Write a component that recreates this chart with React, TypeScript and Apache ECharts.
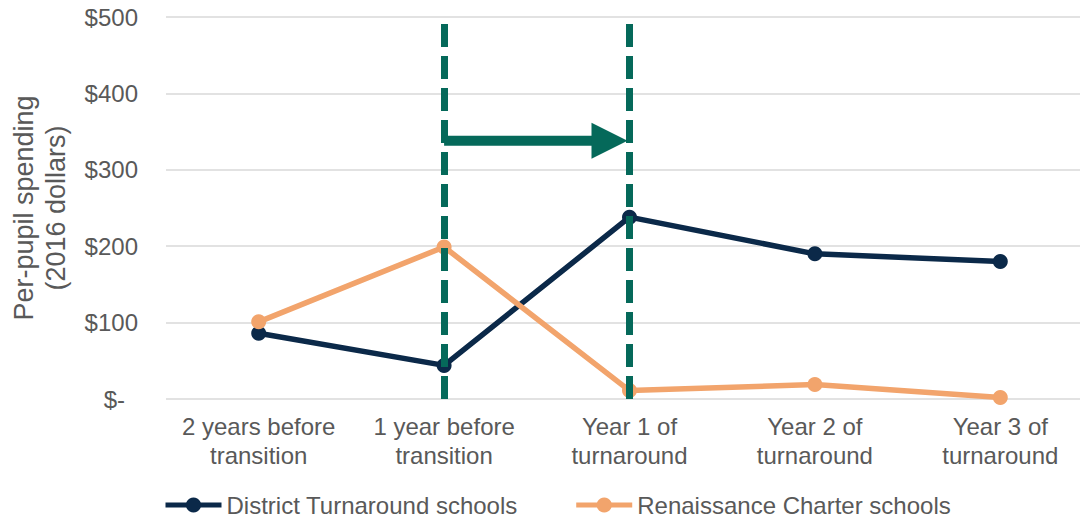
import React, { useEffect, useRef } from "react";
import * as echarts from "echarts";

// Categories along the x axis
const categories = [
  "2 years before\ntransition",
  "1 year before\ntransition",
  "Year 1 of\nturnaround",
  "Year 2 of\nturnaround",
  "Year 3 of\nturnaround",
];

// Per-pupil spending, 2016 dollars
const districtTurnaround = [86, 44, 238, 190, 180];
const renaissanceCharter = [101, 199, 11, 19, 2];

// Transition window: dashed markers at these categories, arrow at this level
const transitionStart = 1;
const transitionEnd = 2;
const arrowLevel = 338;

const yTicks = { min: 0, max: 500, interval: 100 };

const NAVY = "#0b2949";
const ORANGE = "#f2a46c";
const GREEN = "#05695a";
const TEXT = "#595959";
const FONT = "'Liberation Sans', Arial, sans-serif";

export default function App() {
  const ref = useRef<HTMLDivElement>(null);

  useEffect(() => {
    if (!ref.current) return;
    const chart = echarts.init(ref.current, null, { renderer: "svg" });
    chart.setOption({
      animation: false,
      textStyle: { fontFamily: FONT },
      // the plot runs a little past the visible right edge
      grid: { left: 164, right: 7, top: 17, bottom: 119, containLabel: false },
      legend: {
        data: ["District Turnaround schools", "Renaissance Charter schools"],
        left: 163,
        top: 493,
        padding: 0,
        itemWidth: 56,
        itemHeight: 19,
        itemGap: 56,
        lineStyle: { width: 5 },
        textStyle: { fontSize: 24, color: TEXT, fontFamily: FONT },
      },
      xAxis: {
        type: "category",
        data: categories,
        axisLine: { show: false },
        axisTick: { show: false },
        axisLabel: {
          interval: 0,
          color: TEXT,
          fontSize: 24,
          lineHeight: 29,
          margin: 13,
          fontFamily: FONT,
        },
      },
      yAxis: {
        type: "value",
        min: yTicks.min,
        max: yTicks.max,
        interval: yTicks.interval,
        name: "Per-pupil spending\n(2016 dollars)",
        nameLocation: "middle",
        nameGap: 94,
        nameTextStyle: { color: TEXT, fontSize: 27, lineHeight: 32, fontFamily: FONT },
        axisLine: { show: false },
        axisTick: { show: false },
        splitLine: { lineStyle: { color: "#d9d9d9", width: 1.5 } },
        axisLabel: {
          color: TEXT,
          fontSize: 24,
          margin: 28,
          fontFamily: FONT,
          formatter: (v: number) => (v === 0 ? "{z|$-}" : "$" + v),
          rich: { z: { fontSize: 24, color: TEXT, padding: [0, 13, 0, 0], fontFamily: FONT } },
        },
      },
      series: [
        {
          name: "District Turnaround schools",
          type: "line",
          data: districtTurnaround,
          color: NAVY,
          symbol: "circle",
          symbolSize: 15,
          lineStyle: { width: 5.5, color: NAVY },
          itemStyle: { color: NAVY },
          z: 3,
        },
        {
          name: "Renaissance Charter schools",
          type: "line",
          data: renaissanceCharter,
          color: ORANGE,
          symbol: "circle",
          symbolSize: 15,
          lineStyle: { width: 5.5, color: ORANGE },
          itemStyle: { color: ORANGE },
          z: 3,
        },
        {
          name: "transition",
          type: "line",
          data: [],
          z: 5,
          silent: true,
          markLine: {
            silent: true,
            symbol: ["none", "none"],
            label: { show: false },
            lineStyle: { color: GREEN, width: 7, type: [23, 9], opacity: 1 },
            data: [{ xAxis: transitionStart }, { xAxis: transitionEnd }],
          },
        },
        {
          name: "arrow",
          type: "custom",
          z: 6,
          silent: true,
          encode: { x: [0, 1], y: 2 },
          data: [[transitionStart, transitionEnd, arrowLevel]],
          renderItem: (params: any, api: any) => {
            const s = api.coord([api.value(0), api.value(2)]);
            const e = api.coord([api.value(1), api.value(2)]);
            const tipX = e[0] - 2;
            const headLen = 36;
            const headHalf = 18;
            const shaftHalf = 5;
            return {
              type: "group",
              children: [
                {
                  type: "rect",
                  shape: { x: s[0], y: s[1] - shaftHalf, width: tipX - headLen - s[0] + 1, height: shaftHalf * 2 },
                  style: { fill: GREEN },
                },
                {
                  type: "polygon",
                  shape: {
                    points: [
                      [tipX - headLen, e[1] - headHalf],
                      [tipX, e[1]],
                      [tipX - headLen, e[1] + headHalf],
                    ],
                  },
                  style: { fill: GREEN },
                },
              ],
            };
          },
        },
      ],
    });
    return () => chart.dispose();
  }, []);

  return (
    <div
      ref={ref}
      style={{ position: "fixed", left: 0, top: 0, width: 1100, height: 518, background: "#fff" }}
    />
  );
}
